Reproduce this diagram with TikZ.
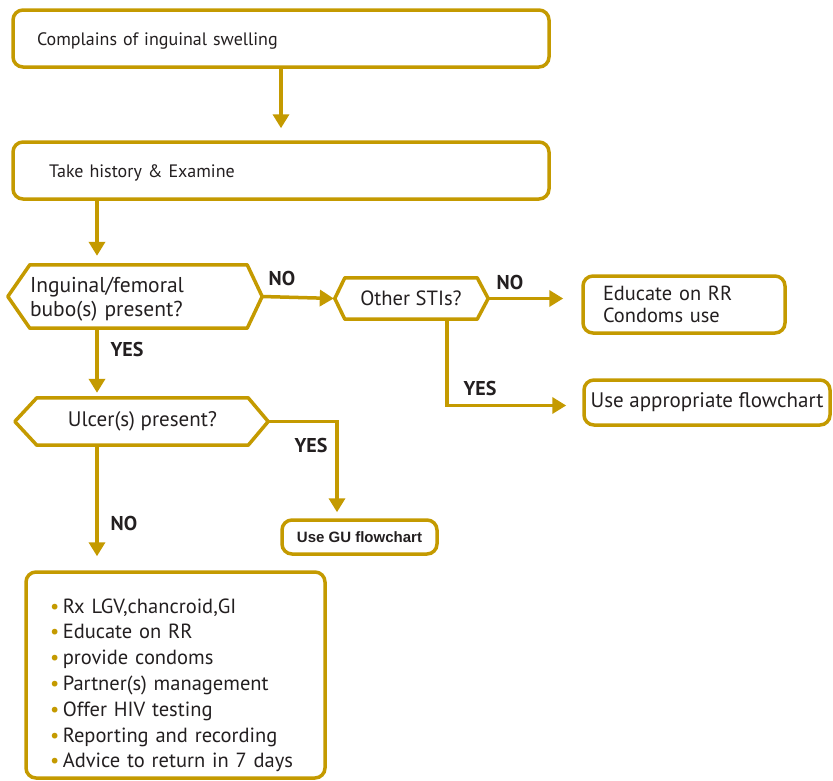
\documentclass[tikz,border=0pt]{standalone}
\usepackage{fontspec}
\setmainfont{PT Sans}
\newfontfamily\arialfont{Liberation Sans}
\usetikzlibrary{arrows.meta}
\definecolor{gold}{RGB}{196,154,0}
\definecolor{ink}{RGB}{35,31,32}
\newcommand{\gb}{{\color{gold}\textbullet}\hspace{3.5pt}}
\newcommand{\hexframe}[3]{\draw[hexline] ([xshift=-#2]#1.west) -- (#1.north west) -- (#1.north east) -- ([xshift=#3]#1.east) -- (#1.south east) -- (#1.south west) -- cycle;}
\tikzset{
  box/.style={draw=gold, line width=3.5pt, rounded corners=10pt, fill=white, text=ink, align=left, font=\fontsize{18}{21}\selectfont},
  hexbody/.style={inner sep=0pt, text=ink, font=\fontsize{21}{24}\selectfont},
  hexline/.style={draw=gold, line width=3.5pt, line join=round},
  flow/.style={draw=gold, line width=3.5pt, -{Triangle[width=16pt,length=14pt]}},
  lbl/.style={text=ink, font=\bfseries\fontsize{20}{22}\selectfont}
}

\begin{document}
\begin{tikzpicture}[x=1pt,y=-1pt]
\useasboundingbox (0,0) rectangle (833,780);

\node[box, minimum height=57pt, inner xsep=24pt, text width=488pt] (swell) at (281,38.5) {\rule{0pt}{17pt}Complains of inguinal swelling};
\node[box, minimum height=57pt, inner xsep=36pt, text width=464pt] (hist) at (281,170.5) {\rule{0pt}{17pt}Take history \& Examine};

\node[hexbody, minimum width=217pt, minimum height=63pt, text width=217pt, align=left, font=\fontsize{21.5}{24}\selectfont] (bubo) at (138.5,296.5) {\rule{0pt}{21pt}Inguinal/femoral\\bubo(s) present?};
\hexframe{bubo}{22pt}{15pt}
\node[hexbody, minimum width=132pt, minimum height=41pt, align=center, font=\fontsize{20.6}{24}\selectfont] (sti) at (411,298.5) {Other STIs?};
\hexframe{sti}{10pt}{11pt}
\node[hexbody, minimum width=211pt, minimum height=47pt, align=center] (ulcer) at (142.5,421.5) {Ulcer(s) present?};
\hexframe{ulcer}{22pt}{20pt}

\node[box, minimum height=57pt, inner xsep=20pt, text width=162pt, font=\fontsize{20.4}{21.5}\selectfont] (educate) at (684,304.5) {Educate on RR\\Condoms use};
\node[box, minimum height=45pt, minimum width=246pt, align=center, font=\fontsize{21}{24}\selectfont] (approp) at (707,402.5) {Use appropriate flowchart};
\node[box, minimum height=34pt, minimum width=155pt, align=center, font=\arialfont\bfseries\fontsize{15}{17}\selectfont] (gu) at (359.5,537) {Use GU flowchart};
\node[box, minimum height=206pt, minimum width=299pt, inner xsep=24pt, text width=251pt, font=\fontsize{20.5}{25.8}\selectfont] (actions) at (175.5,675) {\rule{0pt}{35pt}\gb Rx LGV,chancroid,GI\\\gb Educate on RR\\\gb provide condoms\\\gb Partner(s) management\\\gb Offer HIV testing\\\gb Reporting and recording\\\gb Advice to return in 7 days};

\coordinate (lane) at (97,0);
\coordinate (branch) at (447,0);
\coordinate (gulane) at (337,0);

\draw[flow, shorten >=12pt] (swell) -- (hist);
\draw[flow, shorten >=9pt] (hist.south -| lane) -- (bubo.north -| lane);
\draw[flow, shorten >=1pt] ([xshift=15pt]bubo.east) -- ([xshift=-10pt]sti.west);
\draw[flow, shorten >=18pt] ([xshift=11pt]sti.east) -- (educate.west |- sti.east);
\draw[flow, shorten >=16pt] (sti.south -| branch) |- ([yshift=-3pt]approp.west);
\draw[flow, shorten >=5pt] (bubo.south -| lane) -- (ulcer.north -| lane);
\draw[flow, shorten >=6pt] ([xshift=20pt]ulcer.east) -| (gu.north -| gulane);
\draw[flow, shorten >=14pt] (ulcer.south -| lane) -- (actions.north -| lane);

\node[lbl] (no1) at (282,278) {NO};
\node[lbl] (yes1) at (127,349) {YES};
\node[lbl] (no2) at (510,282) {NO};
\node[lbl] (yes2) at (480,388) {YES};
\node[lbl] (yes3) at (311,445) {YES};
\node[lbl] (no3) at (124,523) {NO};
\end{tikzpicture}
\end{document}
